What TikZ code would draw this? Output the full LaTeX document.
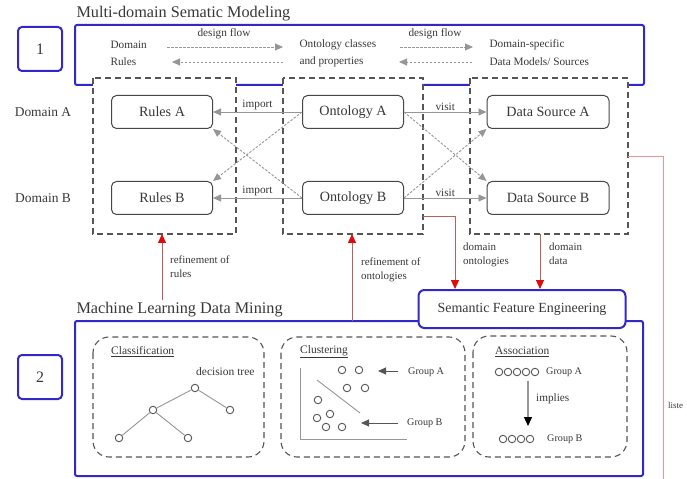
\documentclass[tikz,border=0pt]{standalone}
\usepackage{fontspec}
\setmainfont{Liberation Serif}
\usetikzlibrary{arrows.meta}
\newcommand\fsz[1]{\fontsize{#1}{#1}\selectfont}
\definecolor{bl}{RGB}{50,40,200}
\definecolor{dg}{RGB}{85,85,85}
\definecolor{ig}{RGB}{70,70,70}
\definecolor{lg}{RGB}{150,150,150}
\definecolor{rl}{RGB}{190,95,95}
\definecolor{rt}{RGB}{225,10,10}
\definecolor{pk}{RGB}{235,150,150}
\definecolor{tx}{RGB}{55,55,55}
\tikzset{
  every node/.style={text=tx},
  bluebox/.style={draw=bl, line width=2bp, rounded corners=2bp},
  numbox/.style={draw=bl, line width=2bp, rounded corners=4bp, fill=white,
    minimum width=44bp, minimum height=44bp, font=\fsz{16}},
  dbox/.style={draw=dg, dash pattern=on 6bp off 4bp, line width=1.1bp, fill=white},
  mlbox/.style={draw=dg, dash pattern=on 6bp off 4bp, line width=1.1bp, rounded corners=16bp},
  item/.style={draw=ig, line width=1bp, rounded corners=5bp, fill=white,
    minimum width=101bp, minimum height=33bp, font=\fsz{14.2}},
  small/.style={font=\fsz{11.3}},
  side/.style={font=\fsz{13.5}},
  tiny/.style={font=\fsz{11.5}, anchor=west, inner sep=0pt},
  grp/.style={font=\fsz{10.2}, anchor=west, inner sep=0pt},
  heading/.style={font=\fsz{16.3}, anchor=west},
  blk/.style={-{Triangle[length=8bp,width=7bp]}},
  solidline/.style={draw=lg, line width=0.9bp, blk},
  dashline/.style={draw=lg, line width=0.9bp, dash pattern=on 2.5bp off 1.5bp, blk},
  redline/.style={draw=rl, line width=0.9bp, -{Triangle[length=9bp,width=8bp,color=rt]}},
  dot/.style={circle, draw=dg, line width=0.9bp, minimum size=7.5bp, inner sep=0pt, fill=white},
  lbl/.style={align=left, anchor=north west, inner sep=0pt, font=\fontsize{11}{13.5}\selectfont},
}
\begin{document}
\begin{tikzpicture}[x=1bp, y=-1bp]
\useasboundingbox (0,0) rectangle (687,479);

% ---------- multi-domain semantic modeling ----------
\node[heading] (t1) at (73,14) {Multi-domain Sematic Modeling};
\draw[bluebox] (75,25) rectangle (644,85);
\node[numbox] (n1) at (40,49) {1};

\node[small, anchor=west] (dom) at (107,45) {Domain};
\node[small, anchor=west] (rul) at (107,62) {Rules};
\node[small] (df1) at (224,34) {design flow};
\node[small, anchor=west] (onc) at (296,45) {Ontology classes};
\node[small, anchor=west] (onp) at (296,62) {and properties};
\node[small] (df2) at (435,34) {design flow};
\node[small, anchor=west] (dsp) at (486,45) {Domain-specific};
\node[small, anchor=west] (dmo) at (486,62) {Data Models/ Sources};

\coordinate (f1a) at (167,47); \coordinate (f1b) at (283,47);
\coordinate (f2a) at (283,62); \coordinate (f2b) at (172,62);
\coordinate (f3a) at (400,47); \coordinate (f3b) at (473,47);
\coordinate (f4a) at (472,62); \coordinate (f4b) at (399,62);
\draw[dashline] (f1a) -- (f1b);
\draw[dashline] (f2a) -- (f2b);
\draw[dashline] (f3a) -- (f3b);
\draw[dashline] (f4a) -- (f4b);

% domain groups
\draw[dbox] (93,78) rectangle (236,234);
\draw[dbox] (283,78) rectangle (423,234);
\draw[dbox] (470,78) rectangle (628,234);
\coordinate (g1s) at (162,234);
\coordinate (g2s) at (352,234);
\coordinate (g2e) at (423,216);
\coordinate (g3s) at (540,234);
\coordinate (g3e) at (628,156);

\node[side] (da) at (43,112) {Domain A};
\node[side] (db) at (43,198) {Domain B};

\node[item] (RA) at (162,112) {Rules A};
\node[item] (RB) at (162,198) {Rules B};
\node[item] (OA) at (353,112) {Ontology A};
\node[item] (OB) at (353,198) {Ontology B};
\node[item, minimum width=122bp] (DA) at (548,112) {Data Source A};
\node[item, minimum width=122bp] (DB) at (548,198) {Data Source B};

\draw[solidline] (OA.west) -- node[small, above=-2bp] {import} (RA.east);
\draw[solidline] (OB.west) -- node[small, above=-2bp] {import} (RB.east);
\draw[dashline] (OA.west) -- (RB.north east);
\draw[dashline] (OB.west) -- (RA.south east);
\draw[solidline] (OA.east) -- node[small, above=-2bp] {visit} (DA.west);
\draw[solidline] (OB.east) -- node[small, above=-2bp] {visit} (DB.west);
\draw[dashline] (OA.east) -- (DB.north west);
\draw[dashline] (OB.east) -- (DA.south west);

% ---------- machine learning data mining ----------
\node[heading] (t2) at (73,310) {Machine Learning Data Mining};
\draw[bluebox] (75,321) rectangle (643,476);
\node[numbox] (n2) at (40,377) {2};
\node[draw=bl, line width=2bp, rounded corners=6bp, fill=white,
  minimum width=207bp, minimum height=38bp, font=\fsz{14}] (SFE) at (522,309)
  {Semantic Feature Engineering};

% feedback and feed arrows
\coordinate (r1) at (162,300);
\coordinate (r2) at (352,321);
\draw[redline] (r1) -- (g1s);
\draw[redline] (r2) -- (g2s);
\draw[redline] (g2e) -| (SFE.north -| 455,0);
\draw[redline] (g3s) -- (SFE.north -| 540,0);
\node[lbl] (l1) at (170,256) {refinement of\\rules};
\node[lbl] (l2) at (361,258) {refinement of\\ontologies};
\node[lbl] (l3) at (463,243) {domain\\ontologies};
\node[lbl] (l4) at (549,243) {domain\\data};

\coordinate (rr) at (663,490);
\draw[draw=pk, line width=0.8bp] (g3e) -| (rr);
\node[font=\fsz{9}, anchor=west, inner sep=0pt] (ls) at (668,405) {liste};

% classification
\draw[mlbox] (93,337) rectangle (264,457);
\node[tiny] (cl) at (111,352) {\underline{Classification}};
\node[tiny] (dt) at (196,372) {decision tree};
\node[dot] (k0) at (195,388) {};
\node[dot] (k1) at (153,410) {};
\node[dot] (k2) at (230,410) {};
\node[dot] (k3) at (119,438) {};
\node[dot] (k4) at (188,438) {};
\draw[lg, line width=0.9bp] (k0) -- (k1) (k0) -- (k2) (k1) -- (k3) (k1) -- (k4);

% clustering
\draw[mlbox] (281,337) rectangle (465,457);
\node[tiny] (cu) at (300,352) {\underline{Clustering}};
\coordinate (ax0) at (300,368); \coordinate (ax1) at (300,439); \coordinate (ax2) at (407,439);
\draw[lg, line width=1bp] (ax0) -- (ax1) -- (ax2);
\coordinate (sp0) at (317,380); \coordinate (sp1) at (360,413);
\draw[lg, line width=0.9bp] (sp0) -- (sp1);
\node[dot] (a1) at (342,370) {};
\node[dot] (a2) at (359,370) {};
\node[dot] (a3) at (347,388) {};
\node[dot] (a4) at (365,388) {};
\node[dot] (b1) at (318,400) {};
\node[dot] (b2) at (317,418) {};
\node[dot] (b3) at (330,414) {};
\node[dot] (b4) at (326,427) {};
\node[dot] (b5) at (342,427) {};
\node[grp] (ga) at (408,372) {Group A};
\node[grp] (gb) at (407,423) {Group B};
\coordinate (pa) at (398,371); \coordinate (pa2) at (378,371);
\coordinate (pb) at (398,423); \coordinate (pb2) at (361,423);
\draw[draw=dg, line width=0.9bp, blk] (pa) -- (pa2);
\draw[draw=dg, line width=0.9bp, blk] (pb) -- (pb2);

% association
\draw[mlbox] (473,336) rectangle (627,457);
\node[tiny] (as) at (495,352) {\underline{Association}};
\foreach \i/\x in {1/499,2/508,3/517,4/526,5/535} {
  \node[dot] (u\i) at (\x,372) {};
}
\foreach \i/\x in {1/503,2/512,3/521,4/530} {
  \node[dot] (v\i) at (\x,439) {};
}
\node[grp] (aga) at (546,372) {Group A};
\node[grp] (agb) at (547,439) {Group B};
\coordinate (im0) at (528,381); \coordinate (im1) at (528,426);
\draw[draw=lg, line width=1.3bp, -{Triangle[length=9bp,width=8bp,color=black]}] (im0) -- (im1);
\node[font=\fsz{11.3}, anchor=west, inner sep=0pt] (imp) at (536,399) {implies};
\end{tikzpicture}
\end{document}
